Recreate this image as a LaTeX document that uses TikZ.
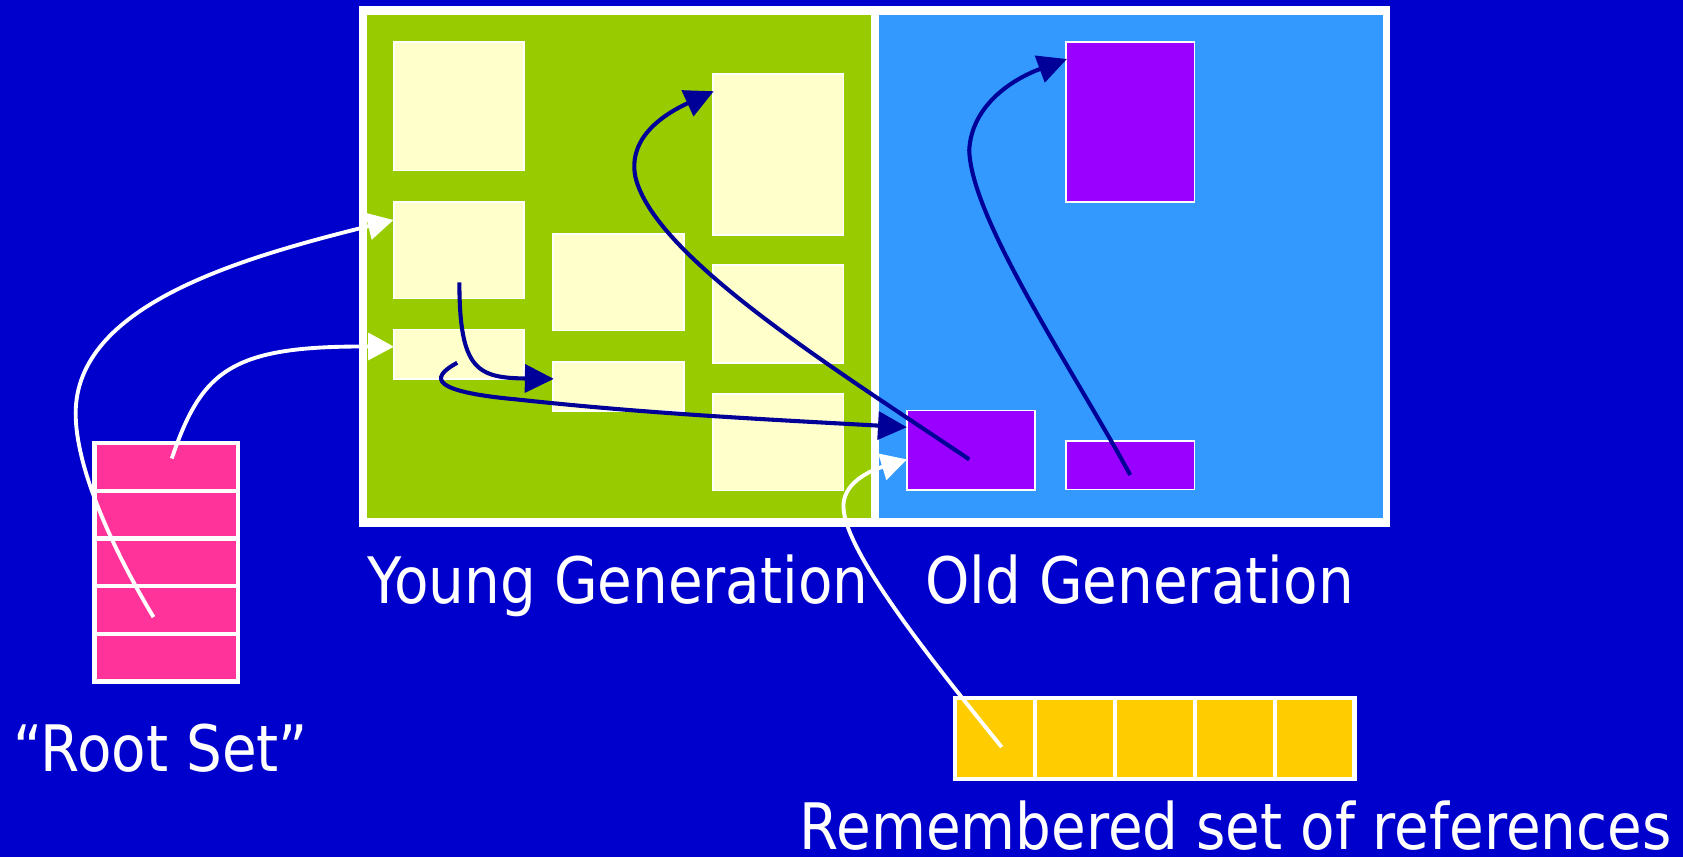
\documentclass[tikz,border=0pt]{standalone}
\usepackage{fontspec}
\newfontfamily\lblfont{DejaVu Sans}[FakeStretch=0.88]
\usetikzlibrary{arrows.meta}
\definecolor{bgblue}{HTML}{0000CC}
\definecolor{younggreen}{HTML}{99CC00}
\definecolor{oldblue}{HTML}{3399FF}
\definecolor{objyellow}{HTML}{FFFFCC}
\definecolor{objpurple}{HTML}{9900FF}
\definecolor{rootpink}{HTML}{FF3399}
\definecolor{remgold}{HTML}{FFCC00}
\definecolor{refnavy}{HTML}{000099}
\begin{document}
\begin{tikzpicture}[x=1pt,y=-1pt,
  region/.style={inner sep=0pt, outer sep=0pt, draw=none},
  ybox/.style={fill=objyellow, draw=white, line width=1.5pt, inner sep=0pt, outer sep=0pt},
  pbox/.style={fill=objpurple, draw=white, line width=1.5pt, inner sep=0pt, outer sep=0pt},
  rootcell/.style={fill=rootpink, draw=white, line width=4pt, inner sep=0pt, outer sep=0pt, minimum width=134pt, minimum height=44.4pt},
  remcell/.style={fill=remgold, draw=white, line width=4pt, inner sep=0pt, outer sep=0pt, minimum width=74.4pt, minimum height=76pt},
  labeltext/.style={text=white, font=\lblfont\fontsize{59.7pt}{70pt}\selectfont, inner sep=0pt, anchor=base west},
  navyref/.style={draw=refnavy, line width=3.8pt, -{Triangle[length=27pt,width=26pt]}},
  whiteref/.style={draw=white, line width=3.6pt, -{Triangle[length=24pt,width=25pt]}}
]
\fill[bgblue] (0,0) rectangle (1568,798);
\useasboundingbox (0,0) rectangle (1568,798);

% heap frame
\fill[white] (334,6) rectangle (1295,491);
\node[region, fill=younggreen, minimum width=469.6pt, minimum height=469pt] (young) at (576.6,248.4) {};
\node[region, fill=oldblue, minimum width=469.5pt, minimum height=469pt] (old) at (1053.65,248.4) {};

% young objects
\node[ybox, minimum width=121pt, minimum height=120pt] (B1) at (427.5,99) {};
\node[ybox, minimum width=121pt, minimum height=90pt] (B2) at (427.5,233) {};
\node[ybox, minimum width=121pt, minimum height=46pt] (B3) at (427.5,330) {};
\node[ybox, minimum width=122pt, minimum height=90pt] (B4) at (576,263) {};
\node[ybox, minimum width=122pt, minimum height=46pt] (B5) at (576,360) {};
\node[ybox, minimum width=122pt, minimum height=150pt] (B6) at (725,144) {};
\node[ybox, minimum width=122pt, minimum height=91pt] (B7) at (725,292.5) {};
\node[ybox, minimum width=122pt, minimum height=90pt] (B8) at (725,412) {};

% old objects
\node[pbox, minimum width=120pt, minimum height=149pt] (P1) at (1053,113.5) {};
\node[pbox, minimum width=119pt, minimum height=74pt] (P2) at (904.5,419.5) {};
\node[pbox, minimum width=120pt, minimum height=45pt] (P3) at (1053,433.5) {};

% root set
\node[rootcell] (R1) at (155,435.2) {};
\node[rootcell] (R2) at (155,479.6) {};
\node[rootcell] (R3) at (155,524.0) {};
\node[rootcell] (R4) at (155,568.4) {};
\node[rootcell] (R5) at (155,612.8) {};

% remembered set
\node[remcell] (Q1) at (927.2,688) {};
\node[remcell] (Q2) at (1001.6,688) {};
\node[remcell] (Q3) at (1076.0,688) {};
\node[remcell] (Q4) at (1150.4,688) {};
\node[remcell] (Q5) at (1224.8,688) {};

% labels
\node[labeltext] (ylab) at (342,562) {Young Generation};
\node[labeltext] (olab) at (862,562) {Old Generation};
\node[labeltext] (rlab) at (12,719) {“Root Set”};
\node[labeltext] (qlab) at (745,791) {Remembered set of references};

% navy references
\draw[navyref] ([shift={(0.5,30)}]B2.center) .. controls (428,345) and (445,352) .. ([shift={(1,-7)}]B5.west);
\draw[navyref] ([shift={(-1.5,8)}]B3.center) .. controls (398,353) and (405,365) .. (480,372)
  .. controls (600,385) and (700,390) .. ([shift={(0,-21.5)}]P2.west);
\draw[navyref] ([shift={(-1.5,8.5)}]P2.center) .. controls (780,345) and (610,240) .. (592,165)
  .. controls (585,130) and (615,108) .. ([shift={(1,16)}]B6.north west);
\draw[navyref] ([shift={(0,9)}]P3.center) .. controls (1000,345) and (905,205) .. (903,140)
  .. controls (905,100) and (940,75) .. ([shift={(1,16)}]P1.north west);

% white references
\draw[whiteref] ([shift={(-12,6.5)}]R4.center) .. controls (110,520) and (70.5,440) .. (70.5,385)
  .. controls (70.5,285) and (221,241) .. ([shift={(-0.5,17)}]B2.north west);
\draw[whiteref] ([shift={(5,-8)}]R1.center) .. controls (188,345) and (215,322) .. ([shift={(0,-7)}]B3.west);
\draw[whiteref] ([shift={(6,8)}]Q1.center) .. controls (880,630) and (790,520) .. (786,475)
  .. controls (783,450) and (812,438) .. ([shift={(0,8.5)}]P2.west);
\end{tikzpicture}
\end{document}
